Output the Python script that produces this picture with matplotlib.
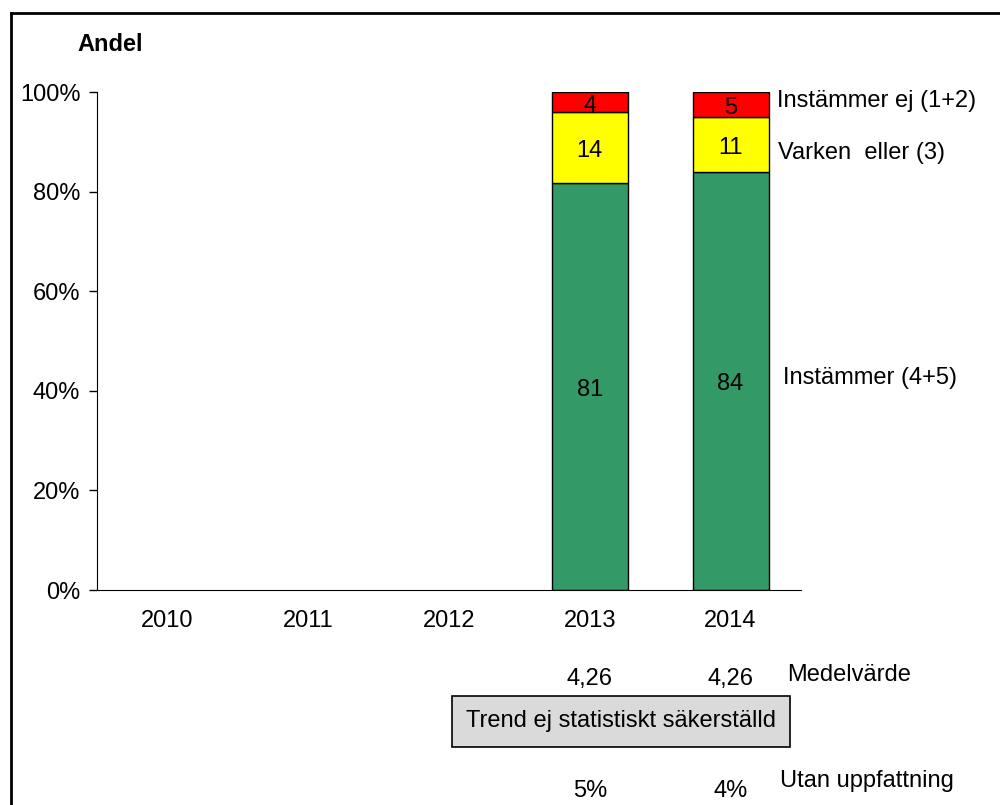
import matplotlib.pyplot as plt
import numpy as np
from matplotlib.patches import Rectangle

plt.rcParams['font.family'] = ['Liberation Sans', 'DejaVu Sans']

# data
years = ["2010", "2011", "2012", "2013", "2014"]
instammer = [np.nan, np.nan, np.nan, 81, 84]        # Instämmer (4+5)
varken = [np.nan, np.nan, np.nan, 14, 11]           # Varken eller (3)
instammer_ej = [np.nan, np.nan, np.nan, 4, 5]       # Instämmer ej (1+2)
medelvarde = ["", "", "", "4,26", "4,26"]
utan_uppfattning = ["", "", "", "5%", "4%"]

series_names = ["Instämmer (4+5)", "Varken  eller (3)", "Instämmer ej (1+2)"]
colors = ["#339966", "#FFFF00", "#FF0000"]
fs = 17

fig = plt.figure(figsize=(10, 8.05), dpi=100)
ax = fig.add_axes([0.097, 0.267, 0.704, 0.6186])

x = np.arange(len(years))
vals = np.array([instammer, varken, instammer_ej], dtype=float)
totals = np.nansum(vals, axis=0)
totals[totals == 0] = 1
shares = vals / totals * 100

has_data = ~np.isnan(vals[0])
bottom = np.zeros(len(years))
for i, (row, share) in enumerate(zip(vals, shares)):
    s = np.nan_to_num(share)
    ax.bar(x[has_data], s[has_data], 0.54, bottom=bottom[has_data], color=colors[i],
           edgecolor='black', linewidth=1)
    for j in range(len(years)):
        if not np.isnan(row[j]):
            ax.text(x[j], bottom[j] + s[j] / 2 - 0.7, f"{int(row[j])}", ha='center', va='center', fontsize=fs)
    bottom += s

ax.set_xlim(-0.5, len(years) - 0.5)
ax.set_ylim(0, 100)
ax.set_yticks(np.arange(0, 101, 20))
ax.set_yticklabels([f"{v}%" for v in range(0, 101, 20)])
ax.set_xticks(x)
ax.set_xticklabels(years)
ax.tick_params(axis='x', length=0, pad=14, labelsize=fs)
ax.tick_params(axis='y', length=6, width=1, direction='out', pad=6, labelsize=fs)
ax.spines['top'].set_visible(False)
ax.spines['right'].set_visible(False)

ax.text(-0.41, 109.6, "Andel", fontsize=fs, fontweight='bold', ha='center', va='center', clip_on=False)

# series labels on the right
ax.text(4.327, 98.2, series_names[2], fontsize=fs, va='center')
ax.text(4.34, 87.8, series_names[1], fontsize=fs, va='center')
ax.text(4.375, 42.6, series_names[0], fontsize=fs, va='center')

# rows below the chart
for j in range(len(years)):
    ax.text(x[j], -17.9, medelvarde[j], fontsize=fs, ha='center', va='center', clip_on=False)
    ax.text(x[j], -40.4, utan_uppfattning[j], fontsize=fs, ha='center', va='center', clip_on=False)
ax.text(4.405, -17.1, "Medelvärde", fontsize=fs, va='center', clip_on=False)
ax.text(4.35, -38.4, "Utan uppfattning", fontsize=fs, va='center', clip_on=False)

# trend box
box = Rectangle((0.452, 1 - 747 / 805), 0.338, 51 / 805, transform=fig.transFigure,
                facecolor='#dadada', edgecolor='black', linewidth=1.2)
fig.patches.append(box)
fig.text(0.621, 1 - 721 / 805, "Trend ej statistiskt säkerställd", fontsize=fs, ha='center', va='center')

# outer frame (top and left)
fig.add_artist(plt.Line2D([0.011, 1.0], [1 - 13 / 805, 1 - 13 / 805], color='black', linewidth=2, transform=fig.transFigure))
fig.add_artist(plt.Line2D([0.011, 0.011], [0, 1 - 13 / 805], color='black', linewidth=2, transform=fig.transFigure))

fig.savefig("out.png", dpi=100)
